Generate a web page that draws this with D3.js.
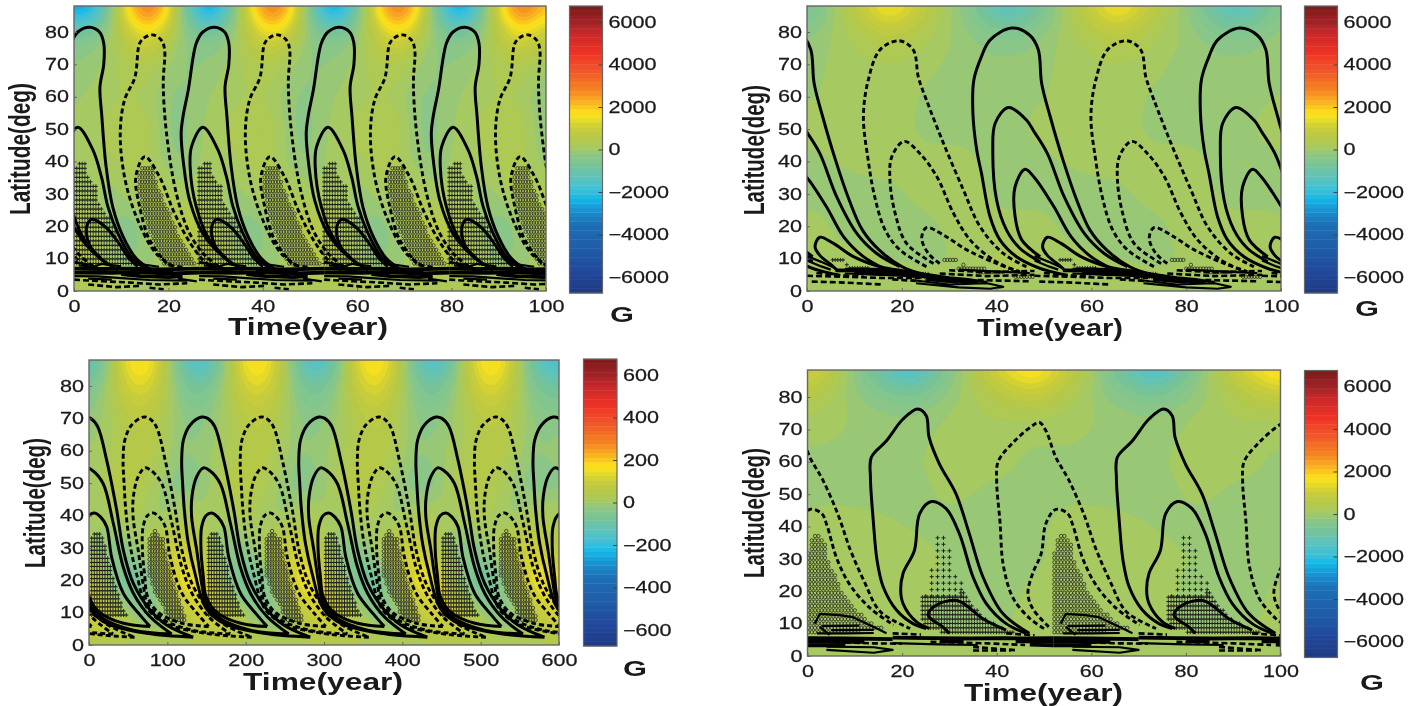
<!DOCTYPE html>
<html><head><meta charset="utf-8">
<script src="https://cdn.jsdelivr.net/npm/d3@7"></script>
<style>
html,body{margin:0;padding:0;background:#fff}
svg{display:block;filter:blur(0.35px)}
text{font-family:"Liberation Sans",Arial,sans-serif;fill:#1a1a1a}
</style></head><body><svg id="c" width="1424" height="706"></svg>
<script>
// ---------- shared tick labels ----------
const latTicks=[0,10,20,30,40,50,60,70,80];
const timeTicksShort=[0,20,40,60,80,100];
const timeTicksLong=[0,100,200,300,400,500,600];
const barTicksBig=[-6000,-4000,-2000,0,2000,4000,6000];
const barTicksSmall=[-600,-400,-200,0,200,400,600];
// colour bar, normalised value -> colour
const cmapStops=[-1,-.86,-.67,-.52,-.43,-.34,-.28,-.19,-.12,-.03,0,.07,.15,.25,.33,.42,.55,.68,.82,.89,1];
const cmapColors=["#1f3a80","#21479a","#1f5fa8","#1d6fb5","#1a8fd0","#14b8e8","#3fc0d8","#5ec3bb","#74c39a","#8fc782","#a2ca68","#b4c84a","#c9cc3a","#fde41a","#f9b322","#f58220","#f0572a","#ee3124","#c5282a","#a02226","#7d1a1a"];
const fieldLats=[88,84,80,75,70,60,50,40,30,20,10,5,0];

// ---------- panel A ----------
const fieldTimesA=[2.5,6,9.5,13,16,19.5,23];
const fieldA=[
[-3500,-1600,700,2900,3500,2400,-700],
[-2300,-800,500,2100,2800,1600,-500],
[-1000,-350,400,1300,1800,900,-300],
[-350,-150,350,750,1000,400,-300],
[-150,0,250,450,450,0,-300],
[50,100,200,250,100,-250,-300],
[150,200,450,550,350,-300,-350],
[250,50,250,350,300,-150,-350],
[200,-150,-100,250,400,400,0],
[550,100,-450,-450,150,450,600],
[500,300,-150,-250,-250,250,500],
[400,300,200,0,0,200,300],
[300,300,300,200,200,300,300]];
const solidA=[
[[35.8,6.5],[31.6,10.6],[27.3,17.8],[24.5,28],[23.2,39.4],[22.7,48.7],[23.1,53.9],[24.2,62],[25.9,76.5],[27.3,80],[29.8,81.5],[31.9,80],[32.8,76.5],[32.8,70],[32,63],[32.4,53.9],[33.3,38.4],[34.7,26],[36.9,16.8],[39.7,10],[42.9,6.5]],
[[33.7,8],[28.7,15.8],[25.9,26],[24.6,38.4],[24.9,44.6],[27.3,50.6],[30.5,43.6],[32.3,35.3],[33.7,26],[35.8,17.8],[38.6,10.6],[41.5,7]],
[[32.3,10],[30.2,13.2],[29.4,15.8],[29.2,19.9],[30.2,22.1],[33,20],[35.8,15.2],[37.9,10.6],[40,7.5]]];
const dashedA=[
[[22.4,6.5],[17.4,11.6],[13.2,23],[10.7,35.3],[9.8,48.7],[10.7,59],[12.9,66],[13.9,76.5],[15,78.3],[16.7,79.1],[18.5,77.5],[19.2,74.5],[18.9,64],[19.6,48.7],[21.7,30],[24.5,17.8],[28,10.6],[32.3,6]],
[[19.6,8.5],[16,15.8],[13.9,26],[13.1,35.3],[15,41.5],[18.1,35.3],[21,25],[23.8,16.8],[27.3,9.6],[30.2,6.5]]];
const crossZoneA=[[0.8,39.6],[2.6,39.4],[3,35.3],[4.7,32.2],[5.4,26],[7.6,23],[9.7,14.7],[13.9,8.5],[0,8.5],[0,38.4]];
const circleZoneA=[[14.3,38.4],[16.7,38.4],[18.1,31.2],[20.3,24],[22.4,16.8],[25.9,8.5],[18.9,8.5],[16,17.8],[13.9,28],[13.3,35.3]];
const bandHeavyA=[[[0,6.9],[6,6.8],[12,6.9],[18,6.7],[26.5,6.9]],[[0,5.7],[8,5.6],[14,5.8],[20,5.4],[26.5,5.7]],[[10,5.2],[14,4.6],[20,4.3],[23,4.6]],[[12,6.4],[17,6.2],[21,5.6]]];
const bandLightA=[[[0,4.6],[5,4.5],[10,4],[16,3.4],[24,3.2]],[[1,7.9],[4,7.5],[6,8.4],[10,7.6]],[[14,8.3],[18,7.5]],[[3,3.8],[8,3.5]],[[22,3.8],[26,3]]];
const bandDashA=[[[0,3.5],[6,3],[12,2.6],[18,2],[24,2.4]],[[3,2],[9,1.2],[14,1.6]],[[16,1],[19,0.5]],[[0,9],[3,8],[5,7.4]],[[20,8],[23,7.4]]];

// ---------- panel B ----------
const fieldTimesB=[0,8,17.5,26,33,42];
const fieldB=[
[-1000,400,1900,600,-300,-1700],
[-700,250,1400,400,-250,-1200],
[-350,200,800,250,-150,-600],
[-200,150,400,150,-100,-300],
[-100,100,200,100,-200,-150],
[-50,100,200,-100,-200,-100],
[100,150,200,-150,-100,-200],
[-100,50,150,150,120,-200],
[-150,-150,-100,150,150,-100],
[200,-150,-150,-100,200,50],
[250,100,0,-150,100,300],
[200,150,150,100,150,200],
[200,150,150,150,150,200]];
const solidB=[
[[54.8,4.9],[49.2,7],[44.2,10.6],[40.7,15.8],[38.6,23],[36.8,36.4],[35.8,43.6],[35,54.9],[35.2,65.2],[36.8,72.4],[38.6,77.5],[43.2,81.2],[47,79],[48.8,74.5],[49.5,64.2],[51.3,53.9],[54,40.5],[56.9,28.1],[59.7,18.8],[63.2,12.7],[68.1,7.5],[73,5]],
[[49.2,9],[44.9,13.2],[42.1,18.8],[40,28.1],[39.2,43.6],[39.7,51.8],[42.5,56.7],[46.3,52.8],[48,49],[50.7,42.5],[54.3,29],[58.5,17.8],[62.7,11.6],[67.6,7.5]],
[[49.2,10.6],[45.3,15.8],[43.9,23],[43.9,32.2],[46,37.6],[48,35],[52.1,26],[55.7,16.8],[59.9,10.6],[64.8,6.5]],
[[6.3,6.5],[5.2,8],[2.7,11],[1.7,13.7],[2.7,16.6],[5.6,14.7],[9.8,10.6],[15.4,7.5],[21.7,6]]];
const dashedB=[
[[25.2,7.5],[19.6,12.7],[16.5,18.8],[14.3,29],[12.9,40.5],[11.9,53.9],[12.9,65],[15.4,74.5],[19.4,77.3],[22.4,74.5],[23.5,66],[25.2,59],[28.8,45.6],[33,31.2],[36.5,19.9],[41.4,11.6],[46.3,7.5]],
[[26.7,8.5],[21,14.7],[18.6,24],[17.5,34.3],[17.9,41.5],[20.5,46.2],[23.8,42.5],[27.4,35.3],[30.9,24],[34.4,15.8],[39.3,9.6],[43.5,6.5]],
[[28,8.5],[25.6,11.6],[24.2,16.3],[25.2,19.6],[28.8,17.3],[33.7,12.7],[40,8.5],[44.9,6]]];
const crossRowsB=[[9.6,5.4,7.8],[8.1,8.4,8.9],[7.1,9,13],[6.3,10,21],[5.3,14,26],[4.3,22,27]];
const circleRowsB=[[9.6,29,32],[8.1,33,33.5],[6.9,32,37.5],[5.8,36,42],[4.4,44,48]];
const bandHeavyB=[[[6,6.4],[12,6.3],[18,6],[22,5.6],[26,4.8],[30,4],[34,3.4],[36,3]],[[25,3.7],[32,2.8]],[[8,6.6],[14,6.6],[20,6.2]],[[10,5.6],[20,5.2],[27,4.6]],[[28,3.4],[36,2.8]]];
const bandLightB=[[[8,5.4],[16,5],[24,4.4],[30,3.4],[38,2.8]],[[22,3.4],[30,2],[38,2.4],[41.4,1.3],[38.6,0.7],[32,1.1],[23,2.4]],[[0,10.8],[3,9],[6,7]],[[0,9.4],[3,7.6],[5,6.6]],[[32,6.6],[40,6],[47,5.5]],[[0,7.6],[2,6.4]]];
const bandDashB=[[[1,2.9],[8,2.6],[16,2]],[[0,4.7],[8,4.4],[16,4],[24,4]],[[28,5.4],[38,4.6],[48,5]],[[36,3.4],[47,3]],[[2,5.6],[6,5],[12,4.4]],[[30,6.4],[38,5.8],[48,6.2]],[[18,3.6],[24,3]]];

// ---------- panel C ----------
const fieldTimesC=[0,19,38,57,76,95,114,133];
const fieldC=[
[-170,-90,130,195,195,90,-90,-190],
[-130,-60,100,175,175,70,-70,-150],
[-80,-20,80,140,140,50,-40,-100],
[-50,-10,60,100,100,40,-30,-70],
[-30,0,40,70,80,30,-20,-40],
[0,10,30,60,70,15,-20,-30],
[-20,40,70,60,30,-10,-40,-50],
[10,0,30,40,0,-20,20,40],
[40,-40,-50,-20,40,90,130,100],
[150,20,-80,-130,-60,60,150,170],
[130,130,50,-40,-60,-30,50,130],
[80,100,90,40,0,-20,20,60],
[50,30,20,35,50,40,20,40]];
const solidC=[
[[133,2.4],[73.6,3.6],[22.6,6.7],[0,11.3],[-14.2,22.1],[-22.7,31.4],[-27.8,41.7],[-30,49.9],[-31.2,57],[-29,63.3],[-20.5,67.9],[-5.7,70.4],[2,70],[11,67.5],[22.6,57],[35.3,41.7],[43.8,29.3],[56.6,19],[78,10.8],[99,6.2],[133,2.4]],
[[105.5,3.4],[56.6,4.6],[18,8.2],[0,12.9],[-5.7,19],[-12,29.3],[-18.5,39.6],[-18,46],[-12,52],[-3.5,54.7],[4,54],[18,49.9],[31,37.6],[43.8,24],[56.6,16],[78,8.7],[105.5,3.4]],
[[78,5.7],[44,6.7],[14,10],[0,15],[-3.5,21],[-6.5,29.3],[-5.7,36.5],[0,40],[7.1,40.8],[15,39.5],[22.6,36.5],[29,27],[43.8,16],[65,9.3],[78,5.7]]];
const crossZoneC=[[10,35.5],[18,33],[27,25],[35,17],[50,8],[1,8.7],[0,29],[2,33]];
const circleZoneC=[[84,35.5],[95,33],[103,24],[116,14],[125,7.7],[103,7.7],[78,19],[74,29],[76,33]];

// ---------- panel D ----------
const fieldTimesD=[4,12,21.6,31,40,47.6];
const fieldD=[
[800,-600,-1900,-300,1200,2000],
[500,-450,-1200,-150,800,1400],
[300,-300,-650,-100,500,850],
[150,-100,-250,50,300,300],
[100,-100,-150,100,100,100],
[-100,-150,-100,250,150,-100],
[-50,-120,-150,100,-150,-100],
[150,150,-20,-120,-200,-100],
[200,200,150,-50,-200,-100],
[150,150,150,-150,-200,100],
[200,150,100,-100,-100,150],
[200,200,200,150,150,200],
[200,200,200,200,200,200]];
const solidD=[
[[25.1,8.5],[22.3,10],[18.8,14.2],[16,21.4],[14.7,29.6],[13.9,41.9],[13.3,55.2],[13.5,61.4],[16.7,66.5],[20.2,73.2],[23.3,76.3],[25.1,74.2],[25.7,67.6],[27.9,59.3],[31.4,50.1],[34.2,37.8],[37.1,24.4],[41.3,13.1],[46.9,7]],
[[25.8,8.5],[23,10.6],[20.2,16.2],[19.7,20.3],[20.2,25.5],[22.6,32.6],[23.7,43.9],[26.2,47.7],[29.3,45.5],[32.1,37.8],[35,24.4],[37.8,16.2],[42,10],[46.2,7]],
[[30,7],[28.6,9],[25.5,12.6],[27.2,15.7],[31.4,17.2],[33.5,15.7],[37,11.6],[42,8]]];
const dashedD=[
[[50,8.5],[47,11.6],[43.5,17.8],[41.4,28],[40.7,41.4],[40,53.8],[40.3,60],[43.5,66],[47.7,71.3],[49,72.2],[50.4,69.6],[52.5,61.4],[55.3,54.2],[58.5,43.5],[61,33],[64,23],[67.4,13.7],[73.7,8.5]],
[[51,9],[47.6,14.7],[46.6,19.3],[47.6,25.5],[49.4,31.6],[50.4,40.9],[52.5,45.3],[55,44],[56.1,40.4],[58.2,30.1],[61,21.9],[65.3,14.7],[70.2,9.6]]];
const circleZoneD=[[1.3,38.3],[2.6,36.8],[4.4,33.7],[4.4,29.6],[6.1,24.4],[6.8,21.4],[8.9,16.2],[13.9,10],[16.7,8],[0,6],[-0.5,23],[0.5,35.7]];
const crossZoneD=[[24,18.6],[33.2,19.6],[37,12],[44,7],[30.7,6],[25,9],[23.7,13]];
const crossSparseD=[[27.2,38.3],[28.6,36.8],[30.4,33.7],[30.4,27.5],[32.1,25.5],[33.5,18.5],[25,18.5],[25.8,23.4],[26.5,29.6],[26.9,36.8]];
const bandHeavyD=[[[0,5.5],[8,5.4],[18,5.2]],[[0,4.4],[6,4.4],[12,4.4]],[[0,3.3],[4,3.3],[8,3.4]],[[18,5.7],[26,5.5],[34,5.4],[42,5.5],[46,5.4],[52,5.5]],[[44,4.5],[48,4.5],[52,4.4]],[[47,3.5],[52,3.3]],[[28,4.6],[33,4.5]]];
const bandLightD=[[[4,2.9],[14,2.7],[18,1.9],[14,1],[4,1.9]],[[1.5,10],[2.6,13],[6.8,12.6],[9.6,12],[13.9,9],[16.7,7]],[[2.6,9],[4.7,6.5]],[[18,4],[28,3.6],[36,3.4]],[[3,9.2],[11,9.4]],[[5,8],[14,8.1]],[[2,7],[8,7],[14,7.1]]];
const bandDashD=[[[35,2.8],[44,1.8]],[[26,4.4],[38,3.9],[46,3.4]],[[35,1.7],[43,1.7]],[[6,4.3],[14,3.9],[20,3.8]],[[18,7],[24,6.6]],[[42,7],[48,6.4]]];

// ---------- assemble ----------
const pA=26.5,pB=48,pC=149.5,pD=52;
const panels=[
 {box:[74,546,6,291],bar:[569.5,602.5,6,293,149.5],tmax:100,dom:6750,ticksX:timeTicksShort,ticksB:barTicksBig,period:pA,ft:fieldTimesA,f:fieldA,
  solid:solidA,dashed:dashedA,solidOcc:d3.range(-2,5),dashOcc:d3.range(-2,5),dashShift:0,
  zones:[{k:"c",poly:crossZoneA,dt:.58,dl:1.4},{k:"o",poly:circleZoneA,dt:.58,dl:1.4}],heavy:bandHeavyA,light:bandLightA,dash:bandDashA,
  lat:[22,83,215,30],time:[228,388,335],g:[610,322]},
 {box:[807,1281,6,291],bar:[1304.5,1337.5,6,293,149.5],tmax:100,dom:6750,ticksX:timeTicksShort,ticksB:barTicksBig,period:pB,ft:fieldTimesB,f:fieldB,
  solid:solidB,dashed:dashedB,solidOcc:d3.range(-2,3),dashOcc:d3.range(-2,3),dashShift:0,
  zones:[],rows:[{k:"c",rows:crossRowsB,dt:.55},{k:"o",rows:circleRowsB,dt:.6}],heavy:bandHeavyB,light:bandLightB,dash:bandDashB,
  lat:[755,85,215,764],time:[977,1123,336],g:[1355,316]},
 {box:[89,559,360,645],bar:[583.5,617,359,646,502.5],tmax:600,dom:675,ticksX:timeTicksLong,ticksB:barTicksSmall,period:pC,ft:fieldTimesC,f:fieldC,
  solid:solidC,dashed:solidC,solidOcc:d3.range(-1,6),dashOcc:d3.range(-2,5),dashShift:74.75,
  zones:[{k:"c",poly:crossZoneC,dt:3.4,dl:1.25},{k:"o",poly:circleZoneC,dt:3.4,dl:1.25}],heavy:[],light:[],dash:[],
  lat:[37,438,568,45],time:[243,403,690],g:[623,676]},
 {box:[807.5,1280.5,370,656],bar:[1304.5,1337.5,370.5,657.5,513.5],tmax:100,dom:6750,ticksX:timeTicksShort,ticksB:barTicksBig,period:pD,ft:fieldTimesD,f:fieldD,
  solid:solidD,dashed:dashedD,solidOcc:[0,1],dashOcc:[-1,0,1],dashShift:0,
  zones:[{k:"o",poly:circleZoneD,dt:.7,dl:1.35},{k:"c",poly:crossZoneD,dt:.58,dl:1.35},{k:"c",poly:crossSparseD,dt:1.25,dl:2}],heavy:bandHeavyD,light:bandLightD,dash:bandDashD,
  lat:[755,448,578,764],time:[964,1123,701],g:[1360,690]}
];
const norm=d3.scaleLinear().domain(cmapStops).range(cmapColors).clamp(true);
const svg=d3.select("#c");
const defs=svg.append("defs");
const SX=1.35;
function stretchTicks(g,anchor){
 g.selectAll("text").each(function(){
  const t=d3.select(this);
  const x=+t.attr("x")||0;
  t.attr("x",x/SX).attr("transform",`scale(${SX},1)`).attr("text-anchor",anchor)
   .style("font-size","16px").style("stroke","#1a1a1a").style("stroke-width",".25px");
 });
}
panels.forEach((P,idx)=>{
 const [L,R,T,B]=P.box;
 const x=d3.scaleLinear().domain([0,P.tmax]).range([L,R]);
 const y=d3.scaleLinear().domain([0,(B-T)/3.2375]).range([B,T]);
 const D=P.dom;
 const steps=d3.range(0,64).map(i=>-D+i*(2*D/64));
 const stepW=2*D/64;
 const g=svg.append("g");
 const cid="clip"+idx;
 defs.append("clipPath").attr("id",cid).append("rect").attr("x",L).attr("y",T).attr("width",R-L).attr("height",B-T);
 const plot=g.append("g").attr("clip-path",`url(#${cid})`);
 // field grid
 const nx=Math.round((R-L)/2),ny=Math.round((B-T)/2);
 const vals=new Float64Array(nx*ny);
 const ft=P.ft,per=P.period,nc=ft.length;
 const latAsc=fieldLats;
 function sample(t,l){
  const tt=((t%per)+per)%per;
  let i1=ft.findIndex(v=>v>tt);
  let a,b,ta,tb;
  if(i1===-1){a=nc-1;b=0;ta=ft[nc-1];tb=ft[0]+per;}
  else if(i1===0){a=nc-1;b=0;ta=ft[nc-1]-per;tb=ft[0];}
  else{a=i1-1;b=i1;ta=ft[a];tb=ft[b];}
  const w=(tt-ta)/(tb-ta);
  let r=0;while(r<latAsc.length-2&&latAsc[r+1]>l)r++;
  const v=Math.max(0,Math.min(1,(latAsc[r]-l)/(latAsc[r]-latAsc[r+1])));
  const f=P.f;
  return (1-v)*((1-w)*f[r][a]+w*f[r][b])+v*((1-w)*f[r+1][a]+w*f[r+1][b]);
 }
 const tMaxDom=P.tmax,latMax=y.domain()[1];
 for(let j=0;j<ny;j++)for(let i=0;i<nx;i++){
  vals[i+j*nx]=sample((i+.5)/nx*tMaxDom,latMax*(1-(j+.5)/ny));
 }
 const blurred=d3.blur2?d3.blur2({data:vals,width:nx,height:ny},5,3).data:vals;
 const path=d3.geoPath(d3.geoTransform({point(px,py){this.stream.point(x(px/nx*tMaxDom),y(latMax*(1-py/ny)));}}));
 const cont=d3.contours().size([nx,ny]).thresholds(steps)(blurred);
 plot.append("rect").attr("x",L).attr("y",T).attr("width",R-L).attr("height",B-T).attr("fill",norm(d3.min(blurred)/D));
 plot.selectAll("path.f").data(cont).join("path").attr("class","f").attr("d",path)
  .attr("fill",d=>norm((d.value+stepW/2)/D)).attr("stroke",d=>norm((d.value+stepW/2)/D)).attr("stroke-width",.3);
 // markers
 const k0=-2,k1=Math.ceil(P.tmax/per)+2;
 const marks=[];
 const occs=d3.range(k0,k1);
 (P.zones||[]).forEach(z=>{
  const lats=z.poly.map(p=>p[1]),ts=z.poly.map(p=>p[0]);
  for(let l=d3.min(lats);l<=d3.max(lats);l+=z.dl)for(let t=d3.min(ts);t<=d3.max(ts);t+=z.dt){
   if(d3.polygonContains(z.poly,[t,l]))occs.forEach(k=>{const tk=t+k*per;if(tk>=0&&tk<=P.tmax)marks.push({k:z.k,t:tk,l});});
  }
 });
 (P.rows||[]).forEach(z=>z.rows.forEach(r=>{
  for(let t=r[1];t<=r[2];t+=z.dt)occs.forEach(k=>{const tk=t+k*per;if(tk>=0&&tk<=P.tmax)marks.push({k:z.k,t:tk,l:r[0]});});
 }));
 const crossPath="M-2,0H2M0,-2V2";
 plot.selectAll("path.c").data(marks.filter(m=>m.k==="c")).join("path").attr("class","c").attr("d",crossPath)
  .attr("transform",d=>`translate(${x(d.t)},${y(d.l)})`).attr("fill","none").attr("stroke","#1c1c1c").attr("stroke-width",.95);
 plot.selectAll("circle.o").data(marks.filter(m=>m.k==="o")).join("circle").attr("class","o").attr("r",1.7)
  .attr("cx",d=>x(d.t)).attr("cy",d=>y(d.l)).attr("fill","none").attr("stroke","#2c2c24").attr("stroke-width",.8);
 // contours
 const curve=d3.line().x(p=>x(p[0])).y(p=>y(p[1])).curve(d3.curveCatmullRom.alpha(.5));
 const straight=d3.line().x(p=>x(p[0])).y(p=>y(p[1]));
 const shifted=(c,o)=>c.map(p=>[p[0]+o,p[1]]);
 const black=(d,w,dash,gen)=>plot.selectAll(null).data(d).join("path").attr("d",gen).attr("fill","none").attr("stroke","#000")
   .attr("stroke-width",w).attr("stroke-dasharray",dash).attr("stroke-linejoin","round");
 const solids=[],dashes=[];
 P.solidOcc.forEach(k=>P.solid.forEach(c=>solids.push(shifted(c,k*per))));
 P.dashOcc.forEach(k=>P.dashed.forEach(c=>dashes.push(shifted(c,k*per+P.dashShift))));
 black(solids,3,null,curve);
 black(dashes,2.9,"5,3",curve);
 const heavy=[],light=[],dsh=[];
 occs.forEach(k=>{
  P.heavy.forEach(c=>heavy.push(shifted(c,k*per)));
  P.light.forEach(c=>light.push(shifted(c,k*per)));
  P.dash.forEach(c=>dsh.push(shifted(c,k*per)));
 });
 black(heavy,3.8,null,straight);
 black(light,2.2,null,straight);
 black(dsh,2.6,"6,3",straight);
 // frame & axes
 g.append("rect").attr("x",L).attr("y",T).attr("width",R-L).attr("height",B-T).attr("fill","none").attr("stroke","#666").attr("stroke-width",1.4);
 const ax=g.append("g").attr("transform",`translate(0,${B})`)
  .call(d3.axisBottom(x).tickValues(P.ticksX).tickFormat(d3.format("d")).tickSize(-3).tickPadding(9));
 const ay=g.append("g").attr("transform",`translate(${L},0)`)
  .call(d3.axisLeft(y).tickValues(latTicks).tickFormat(d3.format("d")).tickSize(-3).tickPadding(5));
 ax.select(".domain").remove();ay.select(".domain").remove();
 ax.selectAll("line").attr("stroke","#666");ay.selectAll("line").attr("stroke","#666");
 ax.selectAll("text").each(function(){d3.select(this).attr("y",9).attr("dy","0.72em");});
 stretchTicks(ax,"middle");stretchTicks(ay,"end");
 // colour bar
 const [bL,bR,bT,bB,bC]=P.bar;
 const by=d3.scaleLinear().domain([-D,D]).range([bB,bT]);
 const bg=svg.append("g");
 bg.selectAll("rect").data(steps).join("rect").attr("x",bL).attr("width",bR-bL)
  .attr("y",d=>by(d+stepW)).attr("height",d=>by(d)-by(d+stepW)+.4).attr("fill",d=>norm((d+stepW/2)/D));
 bg.append("rect").attr("x",bL).attr("y",bT).attr("width",bR-bL).attr("height",bB-bT).attr("fill","none").attr("stroke","#666").attr("stroke-width",1.2);
 const bax=bg.append("g").attr("transform",`translate(${bR},0)`)
  .call(d3.axisRight(by).tickValues(P.ticksB).tickFormat(d3.format("d")).tickSize(-4).tickPadding(6));
 bax.select(".domain").remove();bax.selectAll("line").attr("stroke","#444");
 stretchTicks(bax,"start");
 // titles
 const [lx,lt,lb,lbase]=P.lat;
 svg.append("text").attr("transform",`translate(${lbase},${lb}) rotate(-90)`).attr("textLength",lb-lt).attr("lengthAdjust","spacingAndGlyphs")
  .style("font-size","30px").style("font-weight","700").text("Latitude(deg)");
 const [tL,tR,tB]=P.time;
 svg.append("text").attr("x",tL).attr("y",tB).attr("textLength",tR-tL).attr("lengthAdjust","spacingAndGlyphs")
  .style("font-size","23px").style("font-weight","700").text("Time(year)");
 svg.append("text").attr("transform",`translate(${P.g[0]},${P.g[1]}) scale(1.4,1)`)
  .style("font-size","22px").style("font-weight","700").text("G");
});
</script></body></html>
